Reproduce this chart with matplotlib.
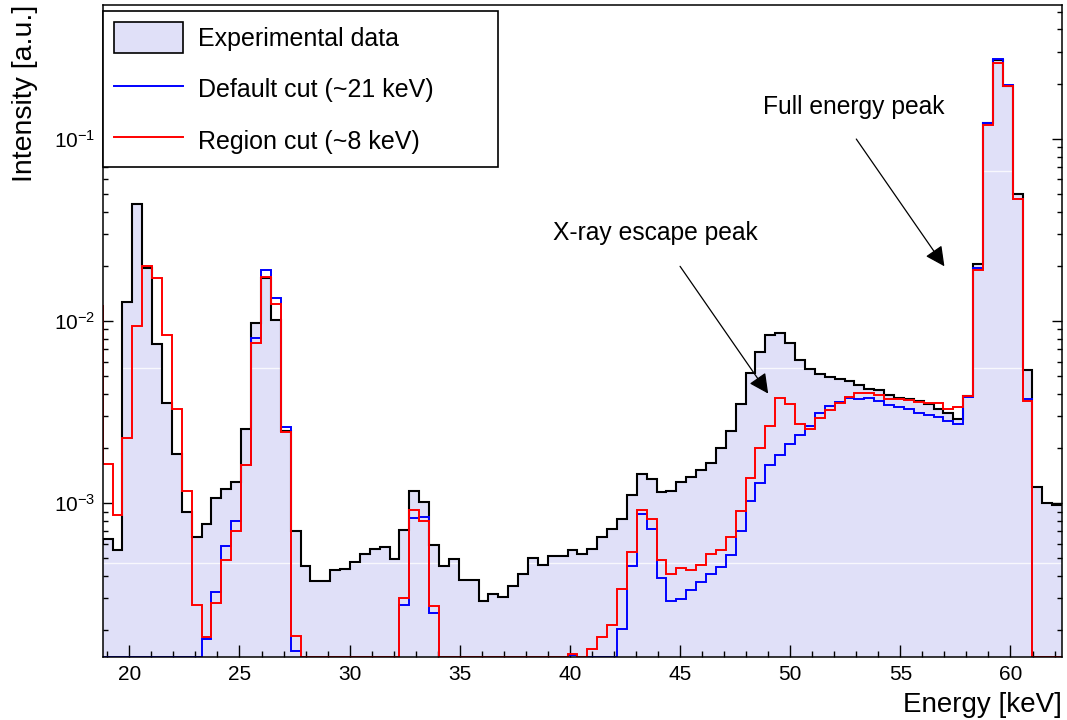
import numpy as np
import matplotlib.pyplot as plt
from matplotlib.patches import Patch
from matplotlib.lines import Line2D
from matplotlib.ticker import MultipleLocator, LogLocator, NullFormatter

plt.rcParams['font.family'] = ['Liberation Sans', 'DejaVu Sans']
plt.rcParams['mathtext.fontset'] = 'custom'
plt.rcParams['mathtext.rm'] = 'Liberation Sans'
plt.rcParams['mathtext.it'] = 'Liberation Sans:italic'

# histogram binning (first bin sits just left of the visible range)
bin_width = 0.449
first_edge = 18.79 - bin_width

# experimental data (black, filled)
experimental = [
    6.0e-4,
    6.34e-4, 5.52e-4, 1.28e-2, 4.40e-2, 1.97e-2, 7.48e-3, 3.57e-3, 1.86e-3, 8.93e-4, 6.53e-4,
    7.67e-4, 1.07e-3, 1.19e-3, 1.31e-3, 2.54e-3, 9.8e-3, 1.72e-2, 1.01e-2, 2.49e-3, 7.05e-4,
    4.5e-4, 3.73e-4, 3.73e-4, 4.28e-4, 4.33e-4, 4.76e-4, 5.29e-4, 5.58e-4, 5.75e-4, 4.92e-4,
    7.11e-4, 1.17e-3, 1.01e-3, 5.88e-4, 4.53e-4, 4.92e-4, 3.78e-4, 3.8e-4, 2.9e-4, 3.19e-4,
    3.06e-4, 3.5e-4, 4.06e-4, 5.03e-4, 4.56e-4, 5.1e-4, 5.1e-4, 5.56e-4, 5.23e-4, 5.58e-4,
    6.53e-4, 7.2e-4, 8.2e-4, 1.11e-3, 1.44e-3, 1.35e-3, 1.15e-3, 1.17e-3, 1.31e-3, 1.4e-3,
    1.52e-3, 1.67e-3, 2.0e-3, 2.49e-3, 3.49e-3, 5.2e-3, 6.73e-3, 8.38e-3, 8.63e-3, 7.6e-3,
    6.1e-3, 5.45e-3, 5.11e-3, 4.94e-3, 4.78e-3, 4.68e-3, 4.48e-3, 4.22e-3, 4.18e-3, 3.91e-3,
    3.76e-3, 3.73e-3, 3.63e-3, 3.49e-3, 3.31e-3, 3.12e-3, 2.9e-3, 3.86e-3, 2.05e-2, 1.22e-1,
    2.72e-1, 1.96e-1, 5.0e-2, 5.42e-3, 1.22e-3, 1.0e-3, 9.75e-4,
]

# default cut (~21 keV), blue
default_cut = [
    0,
    0, 0, 0, 0, 0, 0, 0, 0, 0, 0,
    1.79e-4, 3.24e-4, 5.8e-4, 8.0e-4, 1.63e-3, 8.03e-3, 1.92e-2, 1.34e-2, 2.63e-3, 1.54e-4,
    0, 0, 0, 0, 0, 0, 0, 0, 0, 0,
    2.77e-4, 8.3e-4, 8.4e-4, 2.48e-4, 0, 0, 0, 0, 0, 0,
    0, 0, 0, 0, 0, 0, 0, 1.46e-4, 0, 0,
    0, 0, 2.05e-4, 4.5e-4, 8.67e-4, 7.26e-4, 3.89e-4, 2.9e-4, 2.96e-4, 3.33e-4,
    3.7e-4, 4.11e-4, 4.47e-4, 5.18e-4, 7.02e-4, 1.03e-3, 1.29e-3, 1.63e-3, 1.84e-3, 2.11e-3,
    2.37e-3, 2.65e-3, 3.11e-3, 3.41e-3, 3.6e-3, 3.76e-3, 3.73e-3, 3.76e-3, 3.63e-3, 3.45e-3,
    3.37e-3, 3.28e-3, 3.12e-3, 3.05e-3, 2.97e-3, 2.82e-3, 2.73e-3, 3.82e-3, 1.95e-2, 1.22e-1,
    2.75e-1, 1.99e-1, 4.7e-2, 3.73e-3, 0, 0, 0,
]

# region cut (~8 keV), red
region_cut = [
    1.21e-2,
    1.64e-3, 8.6e-4, 2.27e-3, 9.4e-3, 2.01e-2, 1.73e-2, 8.34e-3, 3.31e-3, 1.16e-3, 2.75e-4,
    1.84e-4, 2.83e-4, 4.86e-4, 7.02e-4, 1.62e-3, 7.54e-3, 1.75e-2, 1.24e-2, 2.47e-3, 1.87e-4,
    0, 0, 0, 0, 0, 0, 0, 0, 0, 0,
    3.03e-4, 9.2e-4, 7.96e-4, 2.73e-4, 0, 0, 0, 0, 0, 0,
    0, 0, 0, 0, 0, 0, 0, 1.48e-4, 0, 1.58e-4,
    1.84e-4, 2.14e-4, 3.37e-4, 5.4e-4, 9.2e-4, 8.17e-4, 4.86e-4, 4.11e-4, 4.41e-4, 4.32e-4,
    4.56e-4, 5.23e-4, 5.52e-4, 6.53e-4, 9.07e-4, 1.38e-3, 2.0e-3, 2.65e-3, 3.79e-3, 3.5e-3,
    2.74e-3, 2.54e-3, 2.92e-3, 3.27e-3, 3.56e-3, 3.81e-3, 4.05e-3, 4.05e-3, 3.91e-3, 3.73e-3,
    3.73e-3, 3.7e-3, 3.6e-3, 3.54e-3, 3.54e-3, 3.31e-3, 3.37e-3, 3.87e-3, 1.92e-2, 1.19e-1,
    2.63e-1, 1.96e-1, 4.67e-2, 3.66e-3, 0, 0, 0,
]

labels = ['Experimental data', 'Default cut (~21 keV)', 'Region cut (~8 keV)']

# annotations: (text x, text y), arrow start, arrow tip
escape_text = (39.24, 0.0305)
escape_arrow = [(45.0, 2.0e-2), (49.0, 4.0e-3)]
full_text = (48.77, 0.15)
full_arrow = [(53.0, 0.1), (57.0, 2.0e-2)]

x_min, x_max = 18.79, 62.35
y_min, y_max = 1.43e-4, 0.545

fill_color = '#e0e0f8'

edges = first_edge + bin_width * np.arange(len(experimental) + 1)
exp_v = np.array(experimental)
blue_v = np.where(np.array(default_cut) > 0, default_cut, y_min)
red_v = np.where(np.array(region_cut) > 0, region_cut, y_min)

fig = plt.figure(figsize=(10.67, 7.2), dpi=100)
ax = fig.add_axes([0.09625, 0.0875, 0.8993, 0.9056])

fill = ax.stairs(exp_v, edges, fill=True, baseline=1e-8, color=fill_color, lw=0, zorder=1)
# faint seams of the fill pattern
for ys in [6.67e-2, 5.52e-3, 4.68e-4]:
    seam = ax.axhline(ys, color='white', lw=1.0, alpha=0.8, zorder=1.5)
    seam.set_clip_path(fill)
ax.stairs(exp_v, edges, baseline=None, color='black', lw=1.5, zorder=2)
ax.stairs(blue_v, edges, baseline=None, color='#0000ff', lw=1.4, zorder=3)
ax.stairs(red_v, edges, baseline=None, color='#ff0000', lw=1.4, zorder=4)

ax.set_yscale('log')
ax.set_xlim(x_min, x_max)
ax.set_ylim(y_min, y_max)

ax.xaxis.set_major_locator(MultipleLocator(5))
ax.xaxis.set_minor_locator(MultipleLocator(1))
ax.yaxis.set_minor_locator(LogLocator(base=10, subs=np.arange(2, 10)))
ax.yaxis.set_minor_formatter(NullFormatter())

ax.tick_params(which='both', direction='in', right=True, top=False, width=1.0)
ax.tick_params(axis='x', which='major', length=8.6, labelsize=15, pad=6)
ax.tick_params(axis='x', which='minor', length=4.3)
ax.tick_params(axis='y', which='major', length=7.5, labelsize=15, pad=5)
ax.tick_params(axis='y', which='minor', length=3.8)
for sp in ax.spines.values():
    sp.set_linewidth(1.1)
    sp.set_zorder(6)

ax.set_xlabel('Energy [keV]', fontsize=20, loc='right')
ax.xaxis.set_label_coords(1.0, -0.0736)
ax.xaxis.label.set_va('center')
ax.set_ylabel('Intensity [a.u.]', fontsize=20.5, loc='top')
ax.yaxis.set_label_coords(-0.081, 1.0)
ax.yaxis.label.set_va('center')

handles = [
    Patch(facecolor=fill_color, edgecolor='black', lw=1.2),
    Line2D([], [], color='#0000ff', lw=1.4),
    Line2D([], [], color='#ff0000', lw=1.4),
]
leg = ax.legend(handles, labels, loc='upper left', bbox_to_anchor=(0.0, 0.991, 0.412, 0.0),
                mode='expand', borderaxespad=0, fontsize=18, handlelength=2.75,
                handleheight=1.5, handletextpad=0.6, labelspacing=0.85, borderpad=0.45,
                fancybox=False, edgecolor='black', framealpha=1)
leg.get_frame().set_linewidth(1.2)
leg.set_zorder(7)

arrow_style = dict(arrowstyle='-|>,head_length=0.6,head_width=0.3', color='black',
                   lw=0.9, shrinkA=0, shrinkB=0, mutation_scale=20)
ax.annotate('', xy=escape_arrow[1], xytext=escape_arrow[0], arrowprops=arrow_style, zorder=5)
ax.annotate('', xy=full_arrow[1], xytext=full_arrow[0], arrowprops=arrow_style, zorder=5)
ax.text(escape_text[0], escape_text[1], 'X-ray escape peak', fontsize=17.7, ha='left', va='center')
ax.text(full_text[0], full_text[1], 'Full energy peak', fontsize=17.7, ha='left', va='center')

fig.savefig('out.png', dpi=100)
